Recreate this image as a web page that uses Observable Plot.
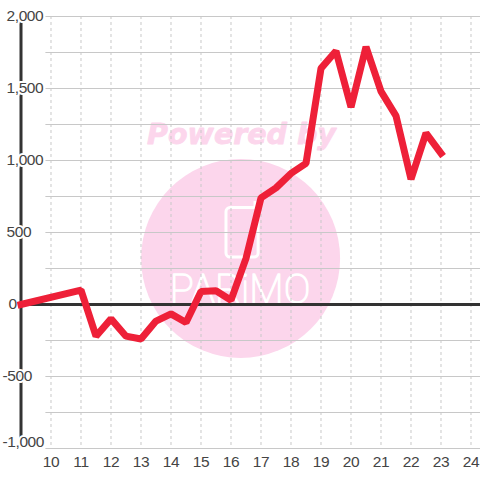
<!DOCTYPE html>
<html><head><meta charset="utf-8">
<script src="https://cdn.jsdelivr.net/npm/d3@7"></script>
<script src="https://cdn.jsdelivr.net/npm/@observablehq/plot@0.6"></script>
<style>html,body{margin:0;padding:0;background:#fff}svg{display:block}
.tick-label text{letter-spacing:-.4px}</style>
</head><body><div id="c"></div>
<script>
const hours = [9,11,11.5,12,12.5,13,13.5,14,14.5,15,15.5,16,16.5,17,17.5,18,18.5,19,19.5,20,20.5,21,21.5,22,22.5,23];
const values = [0,100,-220,-100,-220,-240,-115,-65,-125,90,95,30,320,740,810,910,980,1640,1760,1370,1790,1480,1310,870,1190,1050];
const xTicks = [10,11,12,13,14,15,16,17,18,19,20,21,22,23,24];
const yGrid = [-1000,-750,-500,-250,0,250,500,750,1000,1250,1500,1750,2000];
const yPos = [500,1000,1500,2000];
const yNeg = [-500];
const yLow = [-1000];
const series = hours.map((h,i)=>({h,v:values[i]}));
const fmt = d => d3.format(",")(Math.abs(d)).replace(/^/, d<0?"-":"");
const ink = "#444", font = "'Liberation Sans'";
const label = {fontSize:15.5, fill:ink, stroke:"white", strokeWidth:4, paintOrder:"stroke", textAnchor:"start", className:"tick-label", frameAnchor:"left"};
const pink = "#fcd6ec";
const plot = Plot.plot({
  width:480, height:480, margin:0,
  style:{fontFamily:font, background:"white"},
  x:{domain:[9,24.3167], range:[20.5,480], axis:null},
  y:{domain:[-1000,2000], range:[448,16], axis:null},
  marks:[
    Plot.dot([{x:16.32,y:320}],{x:"x",y:"y",r:99.5,fill:pink,stroke:"none"}),
    Plot.rect([{}],{x1:()=>15.85,x2:()=>16.92,y1:()=>326,y2:()=>670,fill:"none",stroke:"white",strokeWidth:3,r:4}),
    Plot.ruleX([16.8],{x:d=>d,y1:()=>670,y2:()=>715,stroke:"white",strokeWidth:3}),
    Plot.text(["Powered by"],{x:()=>16.35,y:()=>1180,text:d=>d,fontSize:28.5,fontWeight:"bold",fontStyle:"italic",fill:pink,stroke:pink,strokeWidth:0.8,fontFamily:"'DejaVu Sans'",textAnchor:"middle"}),
    Plot.text(["PARiMO"],{x:()=>16.3,y:()=>97,text:d=>d,fontSize:40,fontWeight:100,fontFamily:"Roboto",fill:"white",stroke:"white",strokeWidth:1.4,textAnchor:"middle"}),
    Plot.ruleX(xTicks,{x:d=>d,y1:()=>2000,y2:()=>-1000,stroke:"#c8c8c8",strokeWidth:1,strokeDasharray:"3 3"}),
    Plot.ruleY(yGrid,{y:d=>d,x1:()=>9.83,x2:()=>24.3167,stroke:"#c8c8c8",strokeWidth:1}),
    Plot.ruleX([9],{x:d=>d,y1:()=>2000,y2:()=>-1000,stroke:"#333",strokeWidth:3}),
    Plot.ruleY([0],{y:d=>d,x1:()=>9,x2:()=>24.3167,stroke:"#333",strokeWidth:3}),
    Plot.text(yPos,{...label,y:d=>d,text:fmt,dx:6}),
    Plot.text([0],{...label,y:d=>d,text:fmt,dx:8}),
    Plot.text(yNeg,{...label,y:d=>d,text:fmt,dx:2}),
    Plot.text(yLow,{...label,y:d=>d,text:fmt,dx:2,dy:-6}),
    Plot.text(xTicks,{x:d=>d,frameAnchor:"bottom",dy:-14,text:d=>String(d),fontSize:15.5,fill:ink,className:"tick-label"}),
    Plot.line(series,{x:"h",y:"v",stroke:"#ee2038",strokeWidth:7,strokeLinejoin:"miter",strokeLinecap:"square",curve:"linear"})
  ]
});
document.getElementById("c").append(plot);
</script></body></html>
